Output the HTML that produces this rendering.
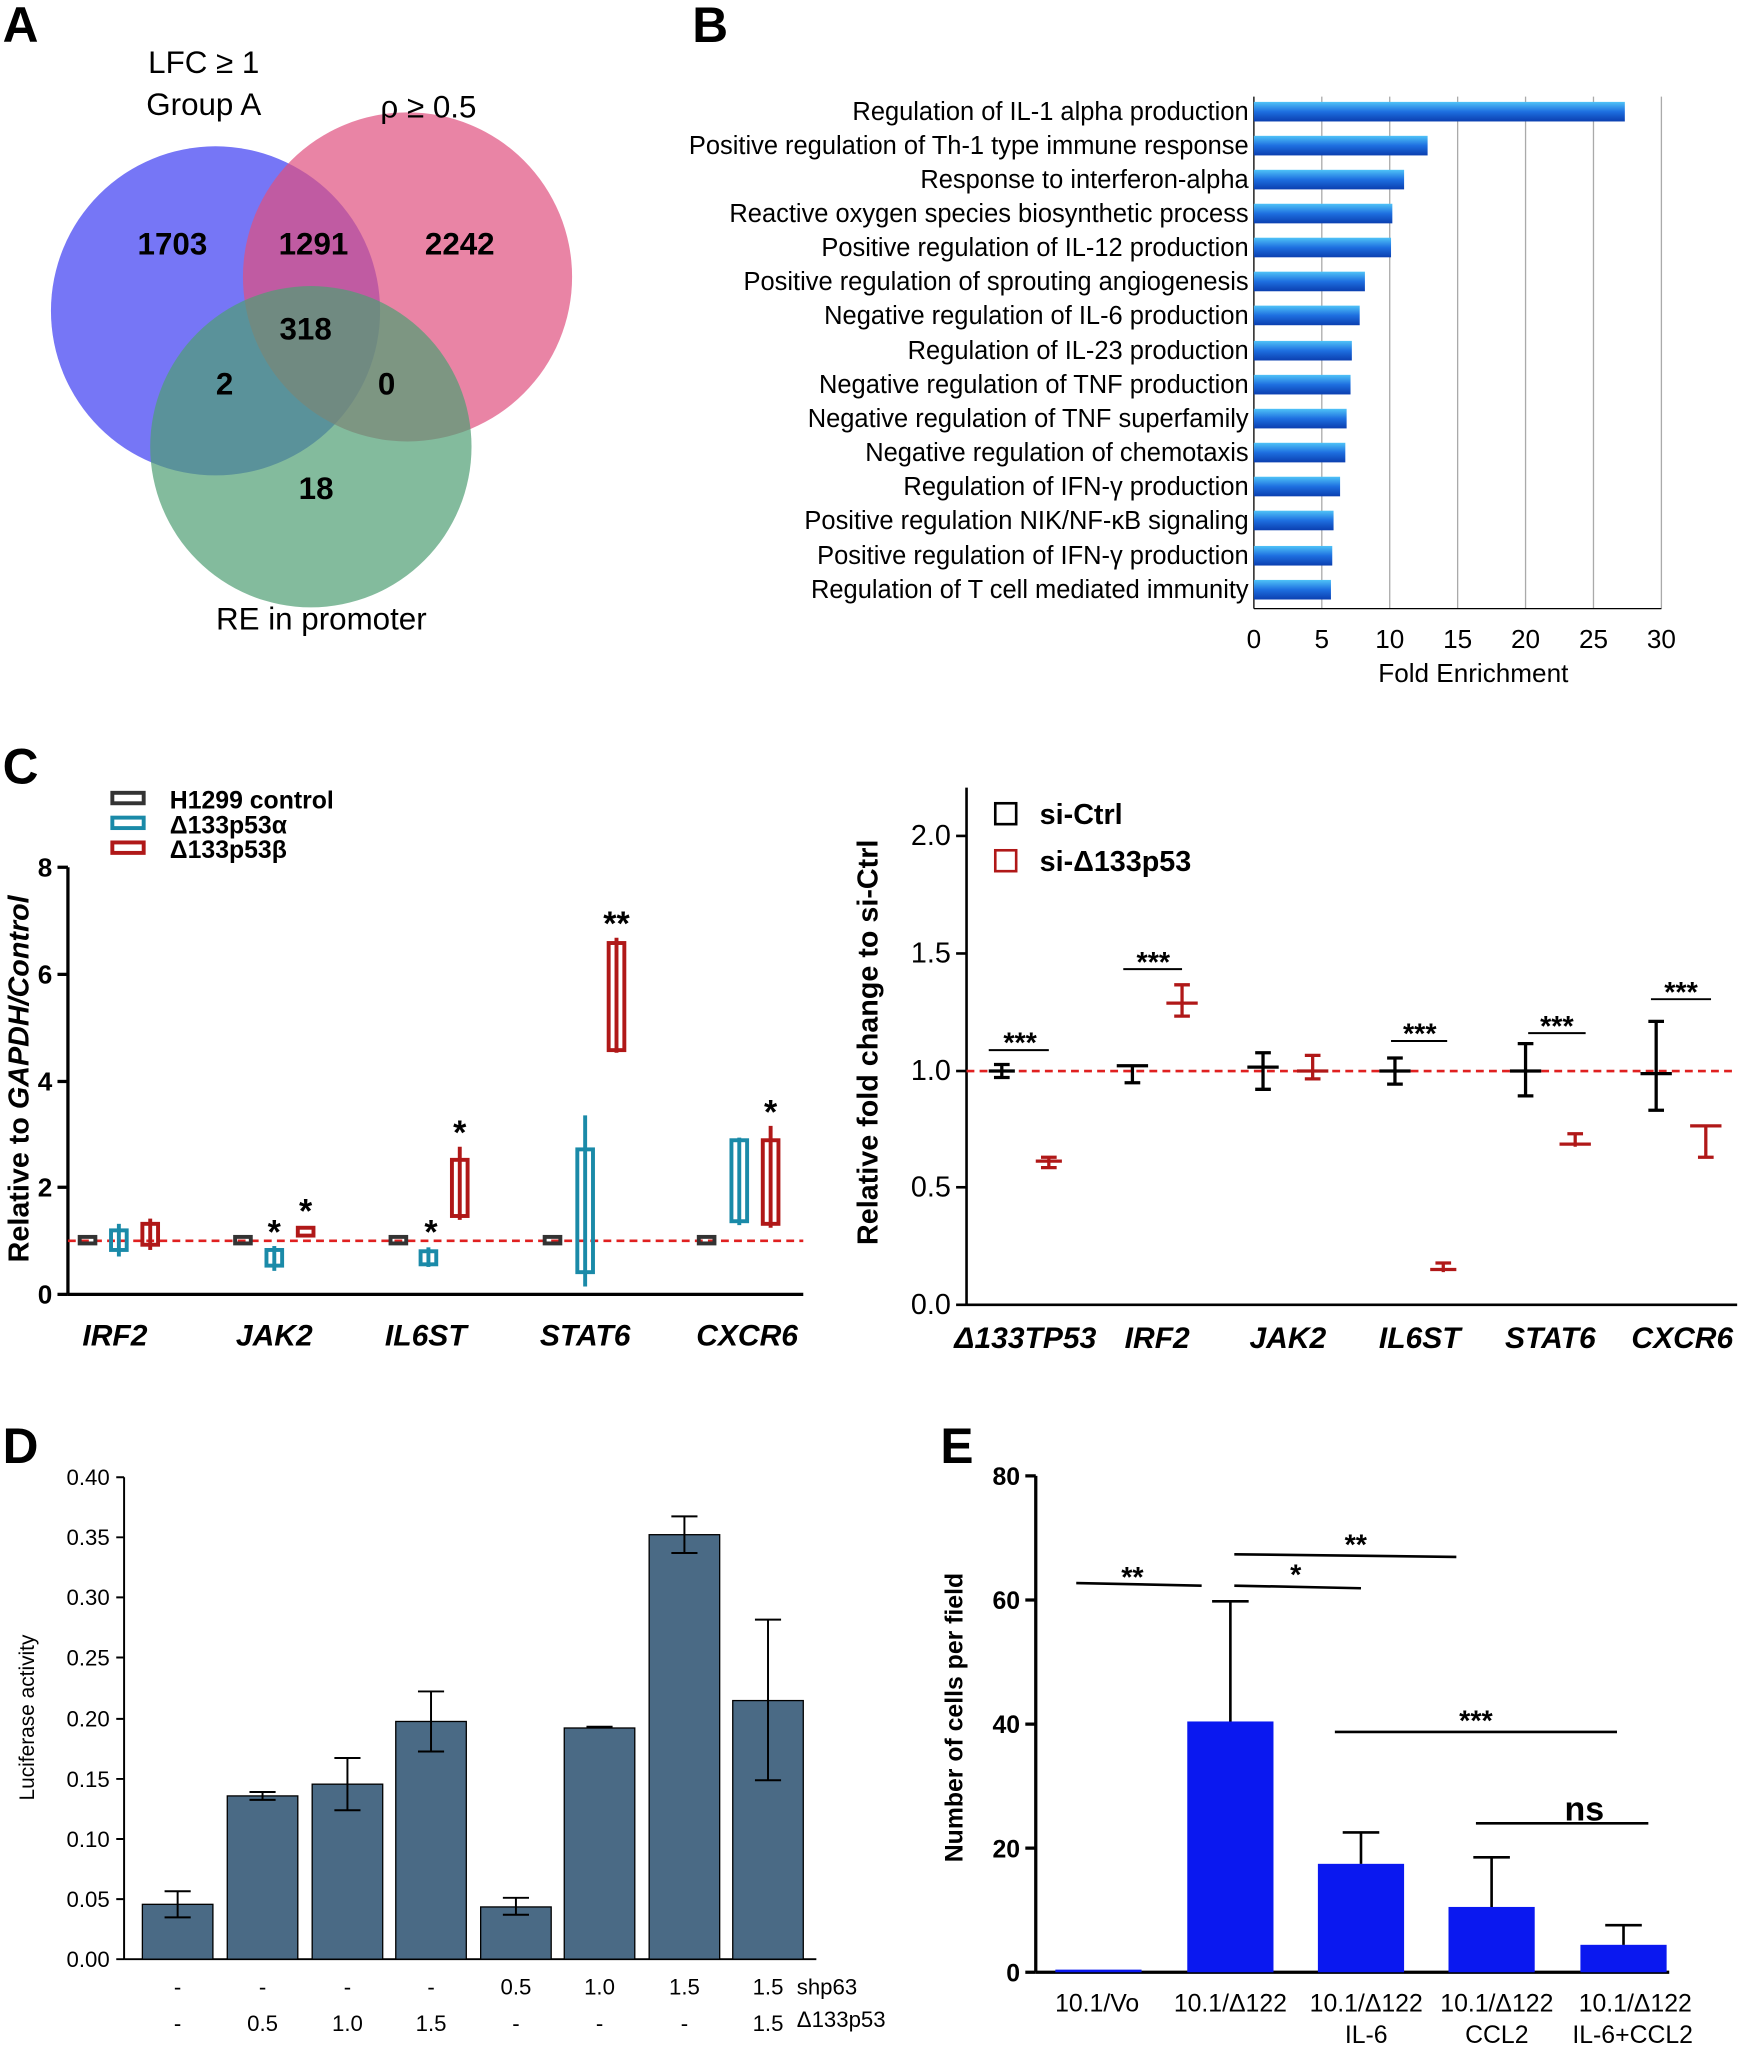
<!DOCTYPE html>
<html><head><meta charset="utf-8"><style>html,body{margin:0;padding:0;background:#fff}svg{display:block}text{font-family:"Liberation Sans",Arial,sans-serif}</style></head>
<body>
<svg width="1745" height="2048" viewBox="0 0 1336 1568" xmlns="http://www.w3.org/2000/svg">
<defs>
<linearGradient id="bg" x1="0" y1="0" x2="0" y2="1"><stop offset="0" stop-color="#4fc3f7"/><stop offset="0.5" stop-color="#1e6fe0"/><stop offset="1" stop-color="#0b3fb0"/></linearGradient>
</defs>
<g font-weight="bold" font-size="38">
<text x="2" y="32">A</text><text x="530" y="32">B</text><text x="2" y="600">C</text><text x="2" y="1120">D</text><text x="720" y="1120">E</text>
</g>
<circle cx="165" cy="238" r="126" fill="#6f6ff5" opacity="0.95"/>
<circle cx="312" cy="212" r="126" fill="#e0507f" opacity="0.7"/>
<circle cx="238" cy="342" r="123" fill="#4f9e74" opacity="0.7"/>
<g font-size="24" text-anchor="middle">
<text x="156" y="56">LFC ≥ 1</text><text x="156" y="88">Group A</text>
<text x="328" y="90">ρ ≥ 0.5</text>
<text x="246" y="482">RE in promoter</text>
</g>
<g font-size="24" font-weight="bold" text-anchor="middle">
<text x="132" y="195">1703</text><text x="240" y="195">1291</text><text x="352" y="195">2242</text>
<text x="234" y="260">318</text><text x="172" y="302">2</text><text x="296" y="302">0</text><text x="242" y="382">18</text>
</g>
<g stroke="#aaa" stroke-width="1">
<line x1="1012" y1="74" x2="1012" y2="466"/><line x1="1064" y1="74" x2="1064" y2="466"/><line x1="1116" y1="74" x2="1116" y2="466"/><line x1="1168" y1="74" x2="1168" y2="466"/><line x1="1220" y1="74" x2="1220" y2="466"/><line x1="1272" y1="74" x2="1272" y2="466"/>
</g>
<line x1="960" y1="74" x2="960" y2="466" stroke="#000"/><line x1="960" y1="466" x2="1272" y2="466" stroke="#000"/>
<g fill="url(#bg)">
<rect x="960" y="78" width="284" height="15"/><rect x="960" y="104" width="133" height="15"/><rect x="960" y="130" width="115" height="15"/><rect x="960" y="156" width="106" height="15"/><rect x="960" y="182" width="105" height="15"/><rect x="960" y="208" width="85" height="15"/><rect x="960" y="234" width="81" height="15"/><rect x="960" y="261" width="75" height="15"/><rect x="960" y="287" width="74" height="15"/><rect x="960" y="313" width="71" height="15"/><rect x="960" y="339" width="70" height="15"/><rect x="960" y="365" width="66" height="15"/><rect x="960" y="391" width="61" height="15"/><rect x="960" y="418" width="60" height="15"/><rect x="960" y="444" width="59" height="15"/>
</g>
<g font-size="19.5" text-anchor="end">
<text x="956" y="92">Regulation  of IL-1 alpha production</text>
<text x="956" y="118">Positive regulation  of Th-1 type immune  response</text>
<text x="956" y="144">Response  to interferon-alpha</text>
<text x="956" y="170">Reactive oxygen species biosynthetic process</text>
<text x="956" y="196">Positive regulation  of IL-12 production</text>
<text x="956" y="222">Positive regulation  of sprouting angiogenesis</text>
<text x="956" y="248">Negative  regulation  of IL-6 production</text>
<text x="956" y="275">Regulation  of IL-23 production</text>
<text x="956" y="301">Negative  regulation  of TNF  production</text>
<text x="956" y="327">Negative  regulation  of TNF superfamily</text>
<text x="956" y="353">Negative  regulation  of chemotaxis</text>
<text x="956" y="379">Regulation  of IFN-γ production</text>
<text x="956" y="405">Positive regulation  NIK/NF-κB signaling</text>
<text x="956" y="432">Positive regulation  of IFN-γ production</text>
<text x="956" y="458">Regulation  of T cell mediated  immunity</text>
</g>
<g font-size="20" text-anchor="middle">
<text x="960" y="496">0</text><text x="1012" y="496">5</text><text x="1064" y="496">10</text><text x="1116" y="496">15</text><text x="1168" y="496">20</text><text x="1220" y="496">25</text><text x="1272" y="496">30</text>
<text x="1128" y="522">Fold Enrichment</text>
</g>
<g stroke="#000" stroke-width="2.5" fill="none">
<line x1="52" y1="664" x2="52" y2="991"/><line x1="52" y1="991" x2="615" y2="991"/>
<line x1="44" y1="664" x2="52" y2="664"/><line x1="44" y1="746" x2="52" y2="746"/><line x1="44" y1="828" x2="52" y2="828"/><line x1="44" y1="909" x2="52" y2="909"/><line x1="44" y1="991" x2="52" y2="991"/>
</g>
<g font-size="20" font-weight="bold" text-anchor="end">
<text x="40" y="671">8</text><text x="40" y="753">6</text><text x="40" y="835">4</text><text x="40" y="916">2</text><text x="40" y="998">0</text>
</g>
<text transform="translate(22 826) rotate(-90)" font-size="22" font-weight="bold" text-anchor="middle">Relative to <tspan font-style="italic">GAPDH/Control</tspan></text>
<line x1="52" y1="950" x2="615" y2="950" stroke="#e02020" stroke-width="2" stroke-dasharray="6,4"/>
<g stroke-width="3" fill="none">
<g stroke="#333"><rect x="61" y="947" width="12" height="5"/><rect x="180" y="947" width="12" height="5"/><rect x="299" y="947" width="12" height="5"/><rect x="417" y="947" width="12" height="5"/><rect x="535" y="947" width="12" height="5"/></g>
<g stroke="#1a8aa8">
<line x1="91" y1="937" x2="91" y2="962"/><rect x="85" y="942" width="12" height="15"/>
<line x1="210" y1="954" x2="210" y2="973"/><rect x="204" y="957" width="12" height="12"/>
<line x1="328" y1="955" x2="328" y2="970"/><rect x="322" y="958" width="12" height="10"/>
<line x1="448" y1="854" x2="448" y2="985"/><rect x="442" y="880" width="12" height="94"/>
<line x1="566" y1="871" x2="566" y2="938"/><rect x="560" y="873" width="12" height="62"/>
</g>
<g stroke="#b01818">
<line x1="115" y1="933" x2="115" y2="957"/><rect x="109" y="937" width="12" height="16"/>
<rect x="228" y="940" width="12" height="6"/>
<line x1="352" y1="878" x2="352" y2="934"/><rect x="346" y="888" width="12" height="43"/>
<line x1="472" y1="718" x2="472" y2="806"/><rect x="466" y="722" width="12" height="82"/>
<line x1="590" y1="862" x2="590" y2="940"/><rect x="584" y="873" width="12" height="64"/>
</g>
</g>
<g font-size="26" font-weight="bold" text-anchor="middle">
<text x="210" y="952">*</text><text x="234" y="936">*</text><text x="330" y="952">*</text><text x="352" y="876">*</text><text x="472" y="716">**</text><text x="590" y="860">*</text>
</g>
<g font-size="23" font-weight="bold" font-style="italic" text-anchor="middle">
<text x="88" y="1030">IRF2</text><text x="210" y="1030">JAK2</text><text x="326" y="1030">IL6ST</text><text x="448" y="1030">STAT6</text><text x="572" y="1030">CXCR6</text>
</g>
<g stroke-width="3" fill="none"><rect x="86" y="607" width="24" height="8" stroke="#333"/><rect x="86" y="626" width="24" height="8" stroke="#1a8aa8"/><rect x="86" y="645" width="24" height="8" stroke="#b01818"/></g>
<g font-size="19" font-weight="bold"><text x="130" y="619">H1299 control</text><text x="130" y="638">Δ133p53α</text><text x="130" y="657">Δ133p53β</text></g>
<g stroke="#000" stroke-width="2" fill="none">
<line x1="740" y1="603" x2="740" y2="999"/><line x1="740" y1="999" x2="1330" y2="999"/>
<line x1="732" y1="640" x2="740" y2="640"/><line x1="732" y1="730" x2="740" y2="730"/><line x1="732" y1="820" x2="740" y2="820"/><line x1="732" y1="909" x2="740" y2="909"/><line x1="732" y1="999" x2="740" y2="999"/>
</g>
<g font-size="22" text-anchor="end"><text x="728" y="647">2.0</text><text x="728" y="737">1.5</text><text x="728" y="827">1.0</text><text x="728" y="916">0.5</text><text x="728" y="1006">0.0</text></g>
<text transform="translate(672 798) rotate(-90)" font-size="22" font-weight="bold" text-anchor="middle">Relative fold change to si-Ctrl</text>
<line x1="740" y1="820" x2="1330" y2="820" stroke="#e02020" stroke-width="2" stroke-dasharray="6,4"/>
<g stroke-width="2.5" fill="none">
<g stroke="#000">
<path d="M767 815v10M757 820h20M761 815h12M761 825h12"/>
<path d="M867 815v14M855 816h24M861 829h12"/>
<path d="M967 806v28M955 817h24M961 806h12M961 834h12"/>
<path d="M1068 810v20M1056 820h24M1062 810h12M1062 830h12"/>
<path d="M1168 799v40M1156 820h24M1162 799h12M1162 839h12"/>
<path d="M1268 782v68M1256 822h24M1262 782h12M1262 850h12"/>
</g>
<g stroke="#b01818">
<path d="M803 886v8M793 889h20M797 886h12M797 894h12"/>
<path d="M905 754v24M893 768h24M899 754h12M899 778h12"/>
<path d="M1005 808v18M993 820h24M999 808h12M999 826h12"/>
<path d="M1105 967v7M1095 972h20M1099 967h12"/>
<path d="M1206 868v10M1194 876h24M1200 868h12"/>
<path d="M1306 862v24M1294 862h24M1300 886h12"/>
</g>
<g stroke="#000" stroke-width="1.5"><line x1="757" y1="804" x2="803" y2="804"/><line x1="860" y1="742" x2="905" y2="742"/><line x1="1065" y1="797" x2="1108" y2="797"/><line x1="1170" y1="791" x2="1214" y2="791"/><line x1="1264" y1="765" x2="1310" y2="765"/></g>
</g>
<g font-size="22" font-weight="bold" text-anchor="middle"><text x="781" y="806">***</text><text x="883" y="744">***</text><text x="1087" y="799">***</text><text x="1192" y="793">***</text><text x="1287" y="767">***</text></g>
<g font-size="23" font-weight="bold" font-style="italic" text-anchor="middle">
<text x="785" y="1032">Δ133TP53</text><text x="886" y="1032">IRF2</text><text x="986" y="1032">JAK2</text><text x="1087" y="1032">IL6ST</text><text x="1187" y="1032">STAT6</text><text x="1288" y="1032">CXCR6</text>
</g>
<rect x="762" y="615" width="16" height="16" fill="none" stroke="#000" stroke-width="2"/>
<rect x="762" y="651" width="16" height="16" fill="none" stroke="#b01818" stroke-width="2"/>
<g font-size="22" font-weight="bold"><text x="796" y="631">si-Ctrl</text><text x="796" y="667">si-Δ133p53</text></g>
<g stroke="#000" stroke-width="1.5" fill="none">
<line x1="95" y1="1131" x2="95" y2="1500"/><line x1="95" y1="1500" x2="625" y2="1500"/>
<path d="M89 1131h6M89 1177h6M89 1223h6M89 1269h6M89 1316h6M89 1362h6M89 1408h6M89 1454h6M89 1500h6"/>
</g>
<g font-size="17" text-anchor="end"><text x="84" y="1137">0.40</text><text x="84" y="1183">0.35</text><text x="84" y="1229">0.30</text><text x="84" y="1275">0.25</text><text x="84" y="1322">0.20</text><text x="84" y="1368">0.15</text><text x="84" y="1414">0.10</text><text x="84" y="1460">0.05</text><text x="84" y="1506">0.00</text></g>
<text transform="translate(26 1315) rotate(-90)" font-size="16" text-anchor="middle">Luciferase activity</text>
<g fill="#4a6a85" stroke="#000" stroke-width="1">
<rect x="109" y="1458" width="54" height="42"/><rect x="174" y="1375" width="54" height="125"/><rect x="239" y="1366" width="54" height="134"/><rect x="303" y="1318" width="54" height="182"/><rect x="368" y="1460" width="54" height="40"/><rect x="432" y="1323" width="54" height="177"/><rect x="497" y="1175" width="54" height="325"/><rect x="561" y="1302" width="54" height="198"/>
</g>
<g stroke="#000" stroke-width="1.5" fill="none">
<path d="M136 1448v20M126 1448h20M126 1468h20"/>
<path d="M201 1372v6M191 1372h20M191 1378h20"/>
<path d="M266 1346v40M256 1346h20M256 1386h20"/>
<path d="M330 1295v46M320 1295h20M320 1341h20"/>
<path d="M395 1453v13M385 1453h20M385 1466h20"/>
<path d="M449 1322h20"/>
<path d="M524 1161v28M514 1161h20M514 1189h20"/>
<path d="M588 1240v123M578 1240h20M578 1363h20"/>
</g>
<g font-size="17" text-anchor="middle">
<text x="136" y="1527">-</text><text x="201" y="1527">-</text><text x="266" y="1527">-</text><text x="330" y="1527">-</text><text x="395" y="1527">0.5</text><text x="459" y="1527">1.0</text><text x="524" y="1527">1.5</text><text x="588" y="1527">1.5</text>
<text x="136" y="1555">-</text><text x="201" y="1555">0.5</text><text x="266" y="1555">1.0</text><text x="330" y="1555">1.5</text><text x="395" y="1555">-</text><text x="459" y="1555">-</text><text x="524" y="1555">-</text><text x="588" y="1555">1.5</text>
</g>
<g font-size="17"><text x="610" y="1527">shp63</text><text x="610" y="1552">Δ133p53</text></g>
<g stroke="#000" stroke-width="2.5" fill="none">
<line x1="793" y1="1130" x2="793" y2="1510"/><line x1="793" y1="1510" x2="1278" y2="1510"/>
<path d="M785 1130h8M785 1225h8M785 1320h8M785 1415h8M785 1510h8"/>
</g>
<g font-size="19" font-weight="bold" text-anchor="end"><text x="781" y="1137">80</text><text x="781" y="1232">60</text><text x="781" y="1327">40</text><text x="781" y="1422">20</text><text x="781" y="1517">0</text></g>
<text transform="translate(737 1315) rotate(-90)" font-size="19" font-weight="bold" text-anchor="middle">Number of cells per field</text>
<g fill="#0a18f0">
<rect x="808" y="1508" width="66" height="2"/><rect x="909" y="1318" width="66" height="192"/><rect x="1009" y="1427" width="66" height="83"/><rect x="1109" y="1460" width="66" height="50"/><rect x="1210" y="1489" width="66" height="21"/>
</g>
<g stroke="#000" stroke-width="2" fill="none">
<path d="M942 1318v-92M928 1226h28"/>
<path d="M1042 1427v-24M1028 1403h28"/>
<path d="M1142 1460v-38M1128 1422h28"/>
<path d="M1243 1489v-15M1229 1474h28"/>
<line x1="824" y1="1212" x2="920" y2="1214"/><line x1="945" y1="1214" x2="1042" y2="1216"/><line x1="945" y1="1190" x2="1115" y2="1192"/>
<line x1="1022" y1="1326" x2="1238" y2="1326"/><line x1="1130" y1="1396" x2="1262" y2="1396"/>
</g>
<g font-size="22" font-weight="bold" text-anchor="middle"><text x="867" y="1215">**</text><text x="992" y="1213">*</text><text x="1038" y="1190">**</text><text x="1130" y="1325">***</text><text x="1213" y="1394" font-size="26">ns</text></g>
<g font-size="19" text-anchor="middle">
<text x="840" y="1540">10.1/Vo</text><text x="942" y="1540">10.1/Δ122</text><text x="1046" y="1540">10.1/Δ122</text><text x="1146" y="1540">10.1/Δ122</text><text x="1252" y="1540">10.1/Δ122</text>
<text x="1046" y="1564">IL-6</text><text x="1146" y="1564">CCL2</text><text x="1250" y="1564">IL-6+CCL2</text>
</g>
</svg>
</body></html>
